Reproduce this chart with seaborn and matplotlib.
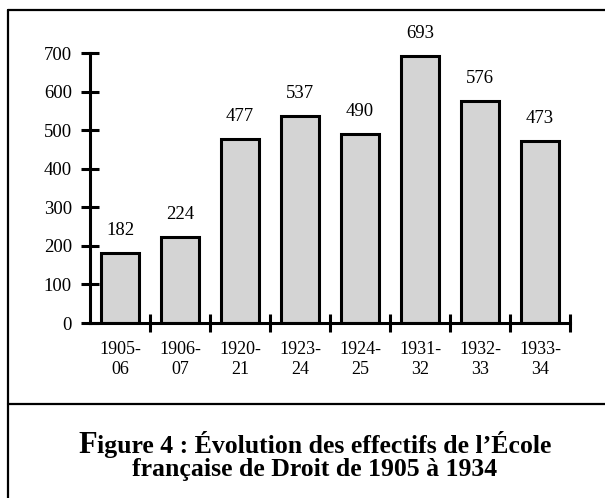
import matplotlib
matplotlib.use("Agg")
import matplotlib.pyplot as plt
import seaborn as sns
from matplotlib.lines import Line2D

# data
periodes = ["1905-\n06", "1906-\n07", "1920-\n21", "1923-\n24",
            "1924-\n25", "1931-\n32", "1932-\n33", "1933-\n34"]
effectifs = [182, 224, 477, 537, 490, 693, 576, 473]
yticks = [0, 100, 200, 300, 400, 500, 600, 700]

sns.set_theme(style="white")
plt.rcParams["font.family"] = ["Liberation Serif", "DejaVu Serif"]
plt.rcParams["text.color"] = "black"
plt.rcParams["xtick.color"] = "black"
plt.rcParams["ytick.color"] = "black"

W, H = 605, 498
fig = plt.figure(figsize=(W / 100, H / 100), dpi=100)
ax = fig.add_axes([90 / W, 1 - 323 / H, 480 / W, 270 / H])

sns.barplot(x=periodes, y=effectifs, color="#d4d4d4", saturation=1,
            edgecolor="black", linewidth=2.2, width=0.62, ax=ax)

ax.set_xlim(-0.5, len(periodes) - 0.5)
ax.set_ylim(0, 700)
ax.set_yticks(yticks)
ax.set_xlabel("")
ax.set_ylabel("")
for s in ["top", "right"]:
    ax.spines[s].set_visible(False)
for s in ["left", "bottom"]:
    ax.spines[s].set_linewidth(2.2)
    ax.spines[s].set_color("black")

ax.tick_params(axis="y", direction="inout", length=13, width=2.2,
               labelsize=13.5, labelcolor="black", pad=6.5, left=True, colors="black")
ax.tick_params(axis="x", which="major", length=0, labelsize=13, pad=13,
               labelcolor="black", colors="black")
ax.set_xticks([i + 0.5 for i in range(len(periodes))], minor=True)
ax.tick_params(axis="x", which="minor", direction="inout", length=13,
               width=2.2, bottom=True, colors="black")
for lab in ax.get_xticklabels():
    lab.set_linespacing(1.25)

ax.bar_label(ax.containers[0], fmt="%d", padding=10, fontsize=13.5, color="black")

# cadre
lw = 1.6
fig.add_artist(Line2D([8 / W, 8 / W], [0, 1 - 10 / H], color="black", lw=lw))
fig.add_artist(Line2D([8 / W, 1], [1 - 10 / H, 1 - 10 / H], color="black", lw=lw))
fig.add_artist(Line2D([8 / W, 1], [1 - 404 / H, 1 - 404 / H], color="black", lw=lw))

# titre
fig.canvas.draw()
r = fig.canvas.get_renderer()
cx = 315 / W
t_f = fig.text(0, 1 - 453 / H, "F", fontsize=22, fontweight="bold", va="baseline")
t_rest = fig.text(0, 1 - 453 / H, "igure 4 : Évolution des effectifs de l’École",
                  fontsize=18.5, fontweight="bold", va="baseline")
wf = t_f.get_window_extent(r).width
wr = t_rest.get_window_extent(r).width
x0 = 315 - (wf + wr) / 2
t_f.set_x(x0 / W)
t_rest.set_x((x0 + wf) / W)
fig.text(cx, 1 - 476 / H, "française de Droit de 1905 à 1934",
         fontsize=18.5, fontweight="bold", va="baseline", ha="center")

fig.savefig("out.png", dpi=100)
